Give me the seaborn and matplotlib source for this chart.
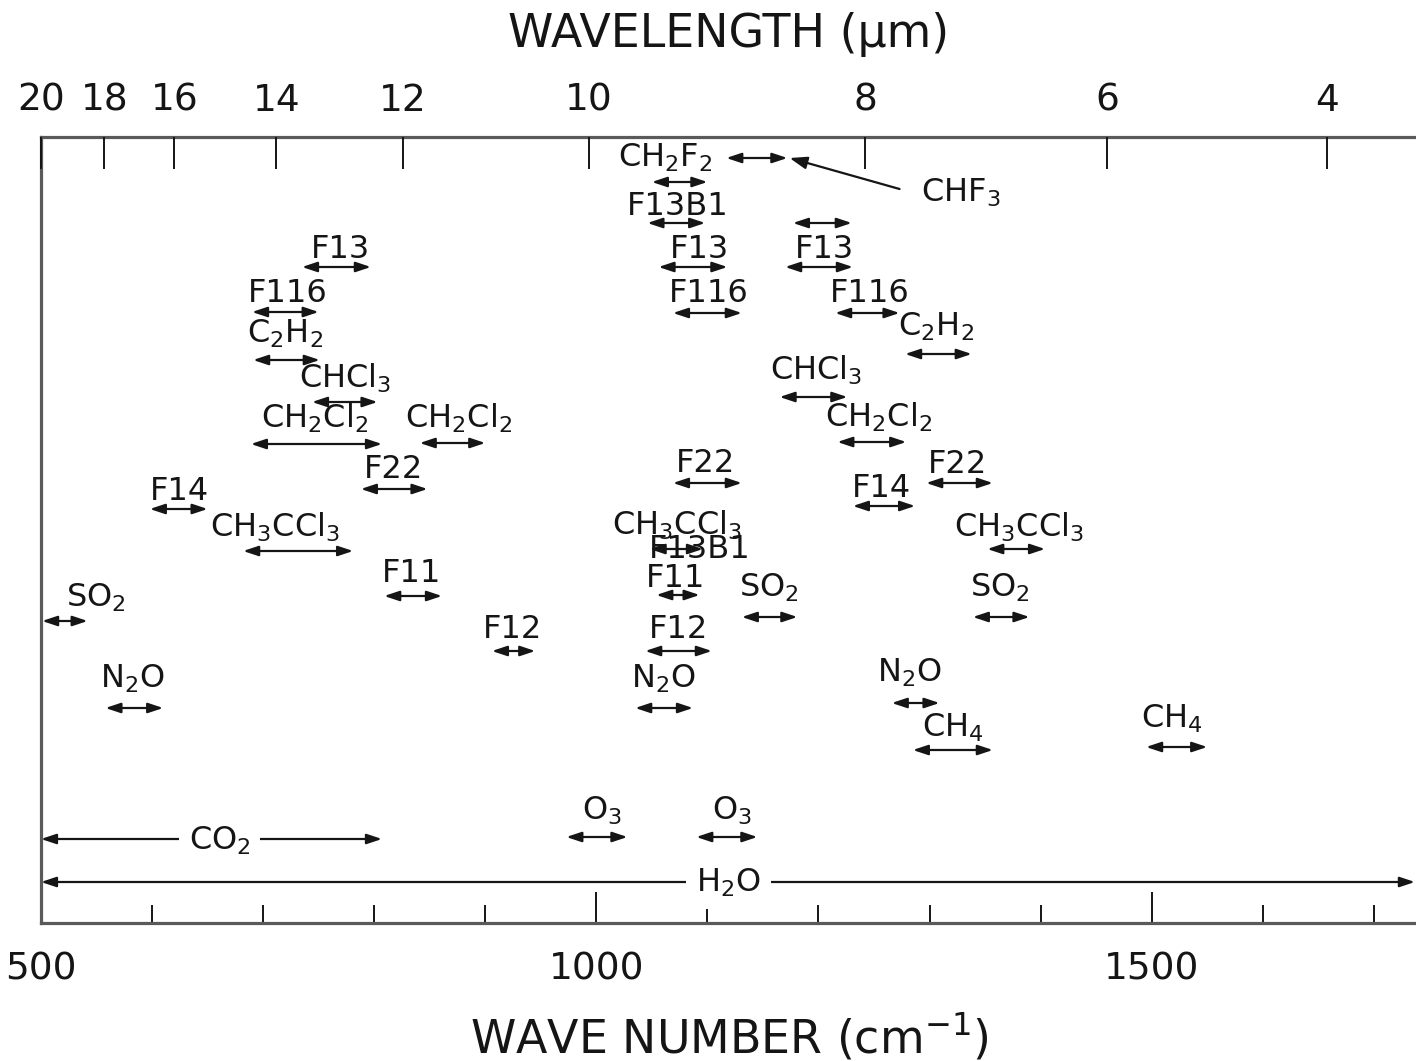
import numpy as np
import matplotlib
matplotlib.use("Agg")
import matplotlib.pyplot as plt
import seaborn as sns

# ---------------- data (wave numbers in cm^-1, rows = vertical level) ----------------
band_species = ["CH2F2", "CH2F2", "F13B1", "F13B1", "F13", "F13", "F13",
                "F116", "F116", "F116", "C2H2", "C2H2", "CHCl3", "CHCl3",
                "CH2Cl2", "CH2Cl2", "CH2Cl2", "F22", "F22", "F22", "F14", "F14",
                "CH3CCl3", "CH3CCl3", "CH3CCl3", "F11", "F11", "SO2", "SO2", "SO2",
                "F12", "F12", "N2O", "N2O", "N2O", "CH4", "CH4", "O3", "O3"]
band_start = [1117, 1050, 1046, 1177, 735, 1056, 1170,
              690, 1069, 1215, 691, 1278, 744, 1165,
              689, 841, 1217, 788, 1069, 1297, 598, 1231,
              682, 1048, 1352, 809, 1054, 501, 1131, 1339,
              906, 1044, 558, 1035, 1266, 1285, 1495, 973, 1090]
band_end = [1172, 1100, 1098, 1230, 797, 1118, 1231,
            750, 1131, 1273, 751, 1338, 803, 1226,
            807, 900, 1279, 848, 1131, 1357, 650, 1287,
            781, 1096, 1404, 861, 1093, 542, 1181, 1390,
            945, 1104, 610, 1087, 1309, 1357, 1550, 1028, 1145]
band_level = [158, 182, 223, 223, 267, 267, 267,
              312, 313, 313, 360, 354, 402, 397,
              444, 443, 442, 489, 483, 483, 509, 506,
              551, 549, 549, 596, 595, 621, 617, 617,
              651, 651, 708, 708, 703, 750, 747, 837, 837]

label_text = ["CH$_2$F$_2$", "CHF$_3$", "F13B1", "F13", "F13", "F13",
              "F116", "F116", "F116", "C$_2$H$_2$", "C$_2$H$_2$",
              "CHCl$_3$", "CHCl$_3$", "CH$_2$Cl$_2$", "CH$_2$Cl$_2$", "CH$_2$Cl$_2$",
              "F22", "F22", "F22", "F14", "F14",
              "CH$_3$CCl$_3$", "CH$_3$CCl$_3$", "F13B1", "CH$_3$CCl$_3$",
              "F11", "F11", "SO$_2$", "SO$_2$", "SO$_2$", "F12", "F12",
              "N$_2$O", "N$_2$O", "N$_2$O", "CH$_4$", "CH$_4$", "O$_3$", "O$_3$"]
label_x = [1062, 1328, 1073, 770, 1093, 1205,
           722, 1101, 1246, 720, 1306,
           774, 1198, 746, 876, 1254,
           817, 1098, 1325, 625, 1257,
           711, 1073, 1093, 1381,
           834, 1071, 549, 1155, 1363, 925, 1074,
           582, 1060, 1282, 1321, 1518, 1005, 1122]
label_level = [167, 202, 215, 258, 258, 258,
               302, 302, 302, 343, 336,
               388, 380, 428, 428, 427,
               478, 472, 473, 500, 497,
               537, 535, 558, 537,
               582, 587, 607, 597, 597, 638, 638,
               688, 688, 682, 737, 728, 820, 820]

# broad bands with the label sitting on the line
broad_text = ["CO$_2$", "H$_2$O"]
broad_start = [500, 500]
broad_end = [807, 1737]
broad_level = [839, 882]
broad_label_x = [661, 1119]
broad_label_level = [850, 892]

# CHF3 pointer (from label to band)
chf3_from = (1273, 189)
chf3_to = (1174, 158)

bottom_major = [500, 1000, 1500]
bottom_major_labels = ["500", "1000", "1500"]
bottom_minor = [600, 700, 800, 900, 1100, 1200, 1300, 1400, 1600, 1700]
top_tick_pos = [500, 557, 620, 712, 826, 993, 1242, 1460, 1658]
top_tick_labels = ["20", "18", "16", "14", "12", "10", "8", "6", "4"]

# ---------------- style ----------------
sns.set_theme(style="white")
plt.rcParams["font.family"] = ["DejaVu Sans"]
plt.rcParams["mathtext.fontset"] = "dejavusans"

W, H = 1416, 1061
fig = plt.figure(figsize=(W / 100, H / 100), dpi=100)
fig.patch.set_facecolor("white")
ax = fig.add_axes([41 / W, (H - 922.7) / H, 1 - 41 / W, (922.7 - 137) / H])
ax.set_facecolor("white")
ax.set_xlim(500, 1738)
ax.set_ylim(922.7, 137)

spine_col = "#5a5a5a"
for s in ["left", "bottom", "top"]:
    ax.spines[s].set_color(spine_col)
    ax.spines[s].set_linewidth(2.3)
ax.spines["right"].set_visible(False)

ink = "#151515"
FS = 23

def darrow(x1, x2, y, style="<|-|>,head_length=0.6,head_width=0.2"):
    ax.annotate("", xy=(x2, y), xytext=(x1, y),
                arrowprops=dict(arrowstyle=style, color=ink, lw=1.6,
                                mutation_scale=15, shrinkA=0, shrinkB=0),
                annotation_clip=False, zorder=3)

for x1, x2, y in zip(band_start, band_end, band_level):
    darrow(x1, x2, y)

for t, x, y in zip(label_text, label_x, label_level):
    ax.text(x, y, t, ha="center", va="baseline", fontsize=FS, color=ink, zorder=4)

for t, x1, x2, y, lx, ly in zip(broad_text, broad_start, broad_end, broad_level,
                                broad_label_x, broad_label_level):
    darrow(x1, x2, y)
    ax.text(lx, ly, t, ha="center", va="baseline", fontsize=FS, color=ink, zorder=5,
            bbox=dict(boxstyle="square,pad=0.3", fc="white", ec="none"))

ax.annotate("", xy=chf3_to, xytext=chf3_from,
            arrowprops=dict(arrowstyle="-|>,head_length=0.7,head_width=0.25", color=ink,
                            lw=1.6, mutation_scale=15, shrinkA=0, shrinkB=0),
            annotation_clip=False, zorder=3)

# bottom axis
ax.set_xticks(bottom_major)
ax.set_xticklabels(bottom_major_labels)
ax.set_xticks(bottom_minor, minor=True)
ax.set_yticks([])
ax.tick_params(axis="x", which="major", direction="in", length=22, width=1.4,
               color=ink, labelsize=27, pad=21, labelcolor=ink, bottom=True, top=False)
ax.tick_params(axis="x", which="minor", direction="in", length=13, width=1.4,
               color=ink, bottom=True, top=False)

# top axis (wavelength)
ax2 = ax.twiny()
ax2.set_xlim(ax.get_xlim())
ax2.set_xticks(top_tick_pos)
ax2.set_xticklabels(top_tick_labels)
ax2.tick_params(axis="x", which="major", direction="in", length=23, width=1.4,
                color=ink, labelsize=27, pad=13, labelcolor=ink)
for s in ax2.spines.values():
    s.set_visible(False)

fig.text(729 / W, 1 - 47 / H, "WAVELENGTH (μm)", ha="center", va="baseline",
         fontsize=33, color=ink)
fig.text(729 / W, 1 - 1053 / H, "WAVE NUMBER (cm$^{-1}$)", ha="center", va="baseline",
         fontsize=33, color=ink)

fig.savefig("out.png", dpi=100, facecolor="white")
